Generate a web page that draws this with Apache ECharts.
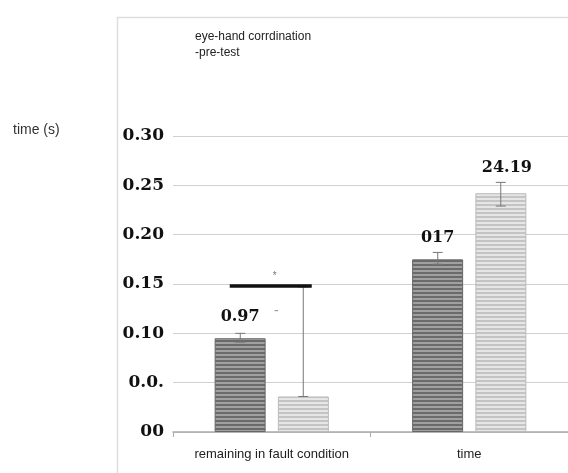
<!DOCTYPE html>
<html>
<head>
<meta charset="utf-8">
<script src="https://cdn.jsdelivr.net/npm/echarts@6/dist/echarts.min.js"></script>
<style>
  html, body { margin: 0; padding: 0; background: #fff; }
  #chart { width: 568px; height: 473px; }
</style>
</head>
<body>
<div id="chart"></div>
<script>
// categories / values
var categories = ["remaining in fault condition", "time"];
var preValues = [0.095, 0.175];      // dark bars
var postValues = [0.036, 0.242];     // light bars
var preErr = [[0.091, 0.100], [0.170, 0.182]];
var postErr = [[0.036, 0.147], [0.229, 0.253]];
var preLabels = ["0.97", "017"];
var postLabels = ["", "24.19"];
var tickLabels = ["00", "0.0.", "0.10", "0.15", "0.20", "0.25", "0.30"];
var sigLevel = 0.148;

// striped fill like the original bars
function stripes(c1, c2) {
  var cv = document.createElement("canvas");
  cv.width = 4;
  cv.height = 4;
  var ctx = cv.getContext("2d");
  ctx.fillStyle = c1;
  ctx.fillRect(0, 0, 4, 2);
  ctx.fillStyle = c2;
  ctx.fillRect(0, 2, 4, 2);
  return cv;
}

var myChart = echarts.init(document.getElementById("chart"));

var BAR_W = 51;
var HALF_STEP = 31.5; // bar center offset from category center
var serif = "DejaVu Serif, Liberation Serif, serif";
var sans = "Liberation Sans, Arial, sans-serif";

function errItem(offset) {
  return function (params, api) {
    var x = api.value(0);
    var lo = api.coord([x, api.value(1)]);
    var hi = api.coord([x, api.value(2)]);
    var cx = lo[0] + offset;
    var cap = 5;
    return {
      type: "group",
      children: [
        { type: "line", shape: { x1: cx, y1: lo[1], x2: cx, y2: hi[1] }, style: { stroke: "#777", lineWidth: 1 } },
        { type: "line", shape: { x1: cx - cap, y1: hi[1], x2: cx + cap, y2: hi[1] }, style: { stroke: "#777", lineWidth: 1 } },
        { type: "line", shape: { x1: cx - cap, y1: lo[1], x2: cx + cap, y2: lo[1] }, style: { stroke: "#777", lineWidth: 1 } }
      ]
    };
  };
}

var option = {
  animation: false,
  grid: {
    left: 173,
    right: -1,
    top: 136,
    bottom: 41
  },
  xAxis: {
    type: "category",
    data: categories,
    axisLine: { show: true, lineStyle: { color: "#aaa", width: 1.5 } },
    axisTick: { show: true, interval: 0, length: 5, lineStyle: { color: "#aaa" } },
    axisLabel: {
      interval: 0,
      margin: 16,
      color: "#222",
      fontSize: 13,
      fontFamily: sans
    },
    splitLine: { show: false }
  },
  yAxis: {
    type: "value",
    min: 0,
    max: 0.3,
    interval: 0.05,
    axisLine: { show: false },
    axisTick: { show: false },
    axisLabel: {
      margin: 9,
      color: "#111",
      fontSize: 17,
      fontWeight: "bold",
      fontFamily: serif,
      formatter: function (v) {
        return tickLabels[Math.round(v / 0.05)];
      }
    },
    splitLine: { lineStyle: { color: "#d0d0d0", width: 1 } }
  },
  series: [
    {
      name: "pre",
      type: "bar",
      barWidth: BAR_W,
      barGap: "24%",
      data: preValues,
      itemStyle: {
        color: { image: stripes("#6a6a6a", "#a0a0a0"), repeat: "repeat" },
        borderColor: "#666",
        borderWidth: 1
      },
      label: {
        show: true,
        position: "top",
        distance: 13,
        color: "#111",
        fontSize: 16,
        fontWeight: "bold",
        fontFamily: serif,
        formatter: function (p) { return preLabels[p.dataIndex]; }
      }
    },
    {
      name: "post",
      type: "bar",
      barWidth: BAR_W,
      data: postValues,
      itemStyle: {
        color: { image: stripes("#c4c4c4", "#e6e6e6"), repeat: "repeat" },
        borderColor: "#bbb",
        borderWidth: 1
      },
      label: {
        show: true,
        position: "top",
        distance: 17,
        offset: [6, 0],
        color: "#111",
        fontSize: 16,
        fontWeight: "bold",
        fontFamily: serif,
        formatter: function (p) { return postLabels[p.dataIndex]; }
      }
    },
    {
      name: "preErr",
      type: "custom",
      renderItem: errItem(-HALF_STEP),
      data: preErr.map(function (e, i) { return [i, e[0], e[1]]; }),
      z: 5
    },
    {
      name: "postErr",
      type: "custom",
      renderItem: errItem(HALF_STEP),
      data: postErr.map(function (e, i) { return [i, e[0], e[1]]; }),
      z: 5
    },
    {
      name: "sig",
      type: "custom",
      renderItem: function (params, api) {
        var p = api.coord([api.value(0), api.value(1)]);
        return {
          type: "group",
          children: [
            { type: "line", shape: { x1: p[0] - 42, y1: p[1], x2: p[0] + 40, y2: p[1] }, style: { stroke: "#111", lineWidth: 3.5 } },
            { type: "text", x: p[0] + 3, y: p[1] - 10, style: { text: "*", fill: "#777", fontSize: 10, align: "center", verticalAlign: "middle" } }
          ]
        };
      },
      data: [[0, sigLevel]],
      z: 6
    }
  ],
  graphic: [
    {
      type: "rect",
      left: 115,
      top: 15,
      shape: { width: 500, height: 500 },
      style: { fill: "none", stroke: "#ddd", lineWidth: 1.5 },
      silent: true
    },
    {
      type: "text",
      left: 195,
      top: 29,
      style: {
        text: "eye-hand corrdination\n-pre-test",
        fill: "#222",
        fontSize: 12,
        lineHeight: 16,
        fontFamily: sans
      }
    },
    {
      type: "text",
      left: 13,
      top: 123,
      style: {
        text: "time (s)",
        fill: "#333",
        fontSize: 14,
        fontFamily: sans
      }
    },
    {
      type: "text",
      left: 274,
      top: 304,
      style: { text: "-", fill: "#999", fontSize: 14 }
    }
  ]
};

myChart.setOption(option);

window.addEventListener("resize", function () {
  if (myChart) myChart.resize();
});
</script>
</body>
</html>
